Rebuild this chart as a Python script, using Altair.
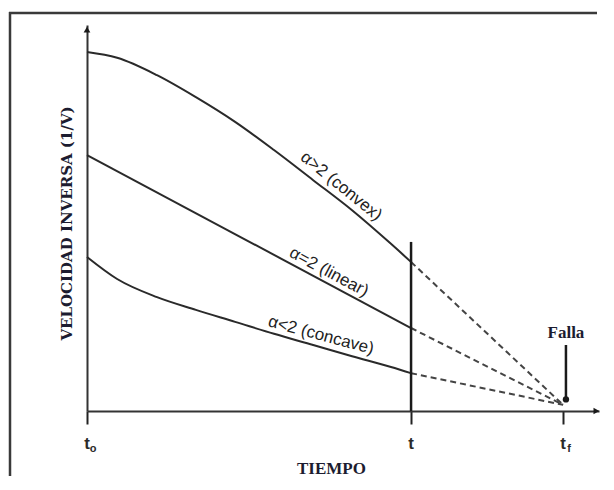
import altair as alt
import pandas as pd

# ---- data ----
series_names = ["convex", "linear", "concave"]
convex_x = [0, 0.93, 2.16, 3.36, 4.57, 5.77, 6.98, 8.18, 9.38, 10]
convex_y = [9.30, 9.15, 8.70, 8.13, 7.49, 6.76, 5.98, 5.20, 4.33, 3.86]
linear_x = [0, 10]
linear_y = [6.63, 2.15]
concave_x = [0, 0.93, 2.16, 3.36, 4.57, 5.77, 6.98, 8.18, 9.38, 10]
concave_y = [3.99, 3.42, 2.95, 2.62, 2.31, 2.00, 1.71, 1.42, 1.14, 0.98]

t_now = 10
t_fail = 14.69
converge_y = 0.16
t_line_top = 4.38

tick_values = [0, 10, 14.69]
tick_main = ["t", "t", "t"]
tick_sub = ["o", "", "f"]

curve_labels = ["α>2 (convex)", "α=2 (linear)", "α<2 (concave)"]
label_x = [7.65, 7.32, 7.14]
label_y = [5.62, 3.37, 1.71]
label_angle = [39, 28, 15]

falla_x = 14.78
falla_top = 1.71
falla_bottom = 0.30
falla_text_y = 2.02

x_max = 15.8
y_max = 10

# ---- tables ----
curves = pd.DataFrame(
    [{"x": a, "y": b, "s": "convex", "o": i} for i, (a, b) in enumerate(zip(convex_x, convex_y))]
    + [{"x": a, "y": b, "s": "linear", "o": i} for i, (a, b) in enumerate(zip(linear_x, linear_y))]
    + [{"x": a, "y": b, "s": "concave", "o": i} for i, (a, b) in enumerate(zip(concave_x, concave_y))]
)
ends = {"convex": convex_y[-1], "linear": linear_y[-1], "concave": concave_y[-1]}
dashes = pd.DataFrame(
    [{"x": t_now, "y": ends[s], "s": s, "o": 0} for s in series_names]
    + [{"x": t_fail, "y": converge_y, "s": s, "o": 1} for s in series_names]
)
labels = pd.DataFrame({"x": label_x, "y": label_y, "text": curve_labels, "angle": label_angle})
ticks = pd.DataFrame({"x": tick_values, "y": [-0.855] * 3, "main": tick_main, "sub": tick_sub})

X = alt.X("x:Q", scale=alt.Scale(domain=[0, x_max], nice=False, zero=False),
          axis=alt.Axis(values=tick_values, labels=False, grid=False, tickSize=13,
                        tickWidth=2, tickColor="#222", domainColor="#333", domainWidth=2,
                        title="TIEMPO", titleFont="Times New Roman", titleFontSize=17,
                        titleFontWeight="bold", titleColor="#1c1c30", titleX=244, titleY=57,
                        titleBaseline="middle", titleAnchor="start", titleAlign="center"))
Y = alt.Y("y:Q", scale=alt.Scale(domain=[0, y_max], nice=False, zero=False),
          axis=alt.Axis(labels=False, ticks=False, grid=False, domainColor="#333", domainWidth=2,
                        title="VELOCIDAD INVERSA (1/V)", titleFont="DejaVu Serif",
                        titleFontSize=15, titleFontWeight="bold", titleColor="#1c1c30",
                        titleX=-21, titleY=198, titleBaseline="middle", titleAngle=-90,
                        titleAlign="center"))

frame_left = alt.Chart(pd.DataFrame({"a": [0]})).mark_rule(
    color="#3a3a3a", strokeWidth=2.5
).encode(x=alt.value(-77), y=alt.value(-13), y2=alt.value(451))
frame_top = alt.Chart(pd.DataFrame({"a": [0]})).mark_rule(
    color="#3a3a3a", strokeWidth=2.5
).encode(x=alt.value(-78), x2=alt.value(510), y=alt.value(-12))

lines = alt.Chart(curves).mark_line(color="#2a2a2a", strokeWidth=2, interpolate="monotone").encode(
    x=X, y=Y, detail="s:N", order="o:Q")

dash = alt.Chart(dashes).mark_line(color="#444", strokeWidth=2, strokeDash=[6, 4]).encode(
    x=X, y=Y, detail="s:N", order="o:Q")

tline = alt.Chart(pd.DataFrame({"x": [t_now], "y": [t_line_top], "y2": [0]})).mark_rule(
    color="#1a1a1a", strokeWidth=2.5).encode(x=X, y=Y, y2="y2:Q")

farrow = alt.Chart(pd.DataFrame({"x": [falla_x], "y": [falla_top], "y2": [falla_bottom]})).mark_rule(
    color="#1a1a1a", strokeWidth=2.5).encode(x=X, y=Y, y2="y2:Q")
fhead = alt.Chart(pd.DataFrame({"x": [falla_x], "y": [falla_bottom]})).mark_point(
    shape="circle", filled=True, size=40, color="#1a1a1a", opacity=1).encode(x=X, y=Y)
ftext = alt.Chart(pd.DataFrame({"x": [falla_x], "y": [falla_text_y], "t": ["Falla"]})).mark_text(
    font="serif", fontSize=17, fontWeight="bold", color="#1c1c30", baseline="middle"
).encode(x=X, y=Y, text="t:N")

arrows = alt.Chart(pd.DataFrame({"x": [0, 15.72], "y": [9.88, 0], "shape": ["triangle-up", "triangle-right"]})).mark_point(
    filled=True, size=45, color="#1a1a1a", opacity=1).encode(
    x=X, y=Y, shape=alt.Shape("shape:N", scale=None))

clabels = alt.Chart(labels).mark_text(
    font="Liberation Sans", fontSize=17, color="#222", baseline="bottom", align="center", dy=-1
).encode(x=X, y=Y, text="text:N", angle=alt.Angle("angle:Q", scale=None))

tmain = alt.Chart(ticks).mark_text(
    font="Liberation Sans", fontSize=17, fontWeight="bold", color="#2a2a2a", baseline="middle"
).encode(x=X, y=Y, text="main:N")
tsub = alt.Chart(ticks).mark_text(
    font="Liberation Sans", fontSize=11, fontWeight="bold", color="#2a2a2a", baseline="middle", dx=6, dy=5
).encode(x=X, y=Y, text="sub:N")

chart = alt.layer(frame_left, frame_top, lines, dash, tline, farrow, fhead, ftext, arrows,
                  clabels, tmain, tsub).properties(
    width=512, height=386,
    autosize=alt.AutoSizeParams(type="none"),
    padding={"left": 79, "top": 17, "right": 7, "bottom": 65},
    background="white",
).configure_view(stroke=None)

chart.save("out.html", embed_options={"renderer": "svg", "actions": False})
